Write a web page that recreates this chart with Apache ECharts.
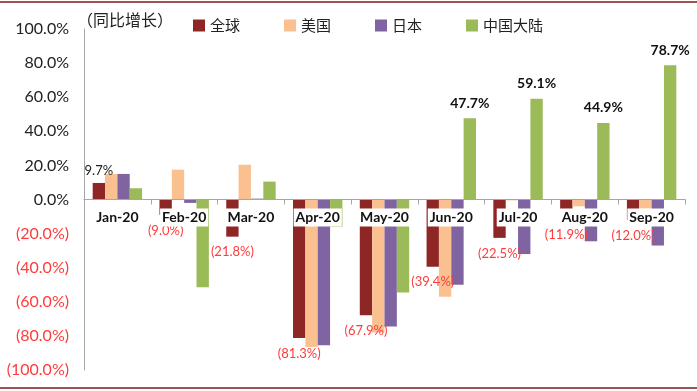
<!DOCTYPE html>
<html>
<head>
<meta charset="utf-8">
<script src="https://cdn.jsdelivr.net/npm/echarts@6/dist/echarts.min.js"></script>
<style>
html,body{margin:0;padding:0;background:#fff;}
#c{width:697px;height:391px;}
</style>
</head>
<body>
<div id="c"></div>
<script>
var categories = ['Jan-20','Feb-20','Mar-20','Apr-20','May-20','Jun-20','Jul-20','Aug-20','Sep-20'];
var seriesNames = ['全球','美国','日本','中国大陆'];
var globalVals = [9.7, -9.0, -21.8, -81.3, -67.9, -39.4, -22.5, -11.9, -12.0];
var usVals     = [15.0, 17.5, 20.4, -86.5, -78.0, -57.0, -0.5, -4.0, -5.4];
var japanVals  = [15.0, -2.0, 0.5, -85.5, -74.5, -50.0, -32.0, -24.5, -27.0];
var chinaVals  = [6.6, -51.5, 10.5, -16.0, -54.6, 47.7, 59.1, 44.9, 78.7];
var yTicks = [-100, -80, -60, -40, -20, 0, 20, 40, 60, 80, 100];

var colors = ['#8E2626', '#FAC090', '#8064A2', '#9BBB59'];
var RED = '#FF3B3B';
var FONT = 'Lato, "Noto Sans", sans-serif';

var GRID_TOP = 29, GRID_BOTTOM = 21, H = 391;
var plotH = H - GRID_TOP - GRID_BOTTOM;
var yMin = yTicks[0], yMax = yTicks[yTicks.length-1];
var zeroFromBottom = plotH * (0 - yMin) / (yMax - yMin);

function fmt(v){
  return v >= 0 ? v.toFixed(1) + '%' : '(' + (-v).toFixed(1) + '%)';
}

var globalData = globalVals.map(function(v){
  return {
    value: v,
    label: v >= 0
      ? {show:true, position:'top', distance:6, color:'#222', fontSize:13, fontFamily:FONT, formatter:function(p){return fmt(p.value);}}
      : {show:true, position:'bottom', distance:9, color:RED, fontSize:13, fontFamily:FONT, formatter:function(p){return fmt(p.value);}}
  };
});
var chinaData = chinaVals.map(function(v, i){
  return {
    value: v,
    label: (i >= 5)
      ? {show:true, position:'top', distance:8, color:'#111', fontSize:14, fontWeight:'bold', fontFamily:FONT, formatter:function(p){return fmt(p.value);}}
      : {show:false}
  };
});

var chart = echarts.init(document.getElementById('c'));
chart.setOption({
  backgroundColor:'#fff',
  animation:false,
  color: colors,
  grid:{left:84, right:12, top:GRID_TOP, bottom:GRID_BOTTOM, containLabel:false, outerBoundsMode:'none'},
  legend:{
    data: seriesNames,
    left: 188, top: 13,
    itemWidth: 12, itemHeight: 12, itemGap: 44,
    icon: 'rect',
    textStyle:{fontSize:15, color:'#222', fontFamily:'"Noto Sans CJK SC", sans-serif'}
  },
  graphic:[
    {type:'text', left:77, top:12, z:20,
      style:{text:'（同比增长）', fontSize:16, fill:'#222', fontFamily:'"Noto Sans CJK SC", sans-serif'}},
    {type:'line', z:20, shape:{x1:0, y1:2, x2:697, y2:2}, style:{stroke:'#7A1A1A', lineWidth:1.5}},
    {type:'line', z:20, shape:{x1:0, y1:388, x2:697, y2:388}, style:{stroke:'#7A1A1A', lineWidth:1.5}}
  ],
  xAxis:[{
    type:'category',
    data: categories,
    show: false
  },{
    type:'category',
    data: categories,
    position:'bottom',
    offset: -zeroFromBottom,
    z: 10,
    axisLine:{show:true, onZero:false, lineStyle:{color:'#A6A6A6', width:1}},
    axisTick:{show:true, length:5, alignWithLabel:false, lineStyle:{color:'#A6A6A6'}},
    axisLabel:{
      interval:0, margin:9, fontSize:14, fontWeight:'bold', color:'#111', fontFamily:FONT,
      backgroundColor:'#fff', padding:[2,2,2,2], hideOverlap:false
    },
    splitLine:{show:false}
  }],
  yAxis:{
    type:'value',
    min: yMin, max: yMax, interval: 20,
    axisLine:{show:true, lineStyle:{color:'#A6A6A6'}},
    axisTick:{show:false},
    splitLine:{show:false},
    axisLabel:{
      margin:15, fontSize:16, fontFamily:FONT,
      formatter:function(v){
        return v >= 0 ? '{p|' + v.toFixed(1) + '%}' : '{n|(' + (-v).toFixed(1) + '%)}';
      },
      rich:{
        p:{color:'#222', fontSize:16, fontFamily:FONT},
        n:{color:RED, fontSize:16, fontFamily:FONT}
      }
    }
  },
  series:[
    {name:seriesNames[0], type:'bar', data:globalData, barGap:'0%', barCategoryGap:'26%'},
    {name:seriesNames[1], type:'bar', data:usVals, barGap:'0%', barCategoryGap:'26%'},
    {name:seriesNames[2], type:'bar', data:japanVals, barGap:'0%', barCategoryGap:'26%'},
    {name:seriesNames[3], type:'bar', data:chinaData, barGap:'0%', barCategoryGap:'26%'}
  ]
});
</script>
</body>
</html>
